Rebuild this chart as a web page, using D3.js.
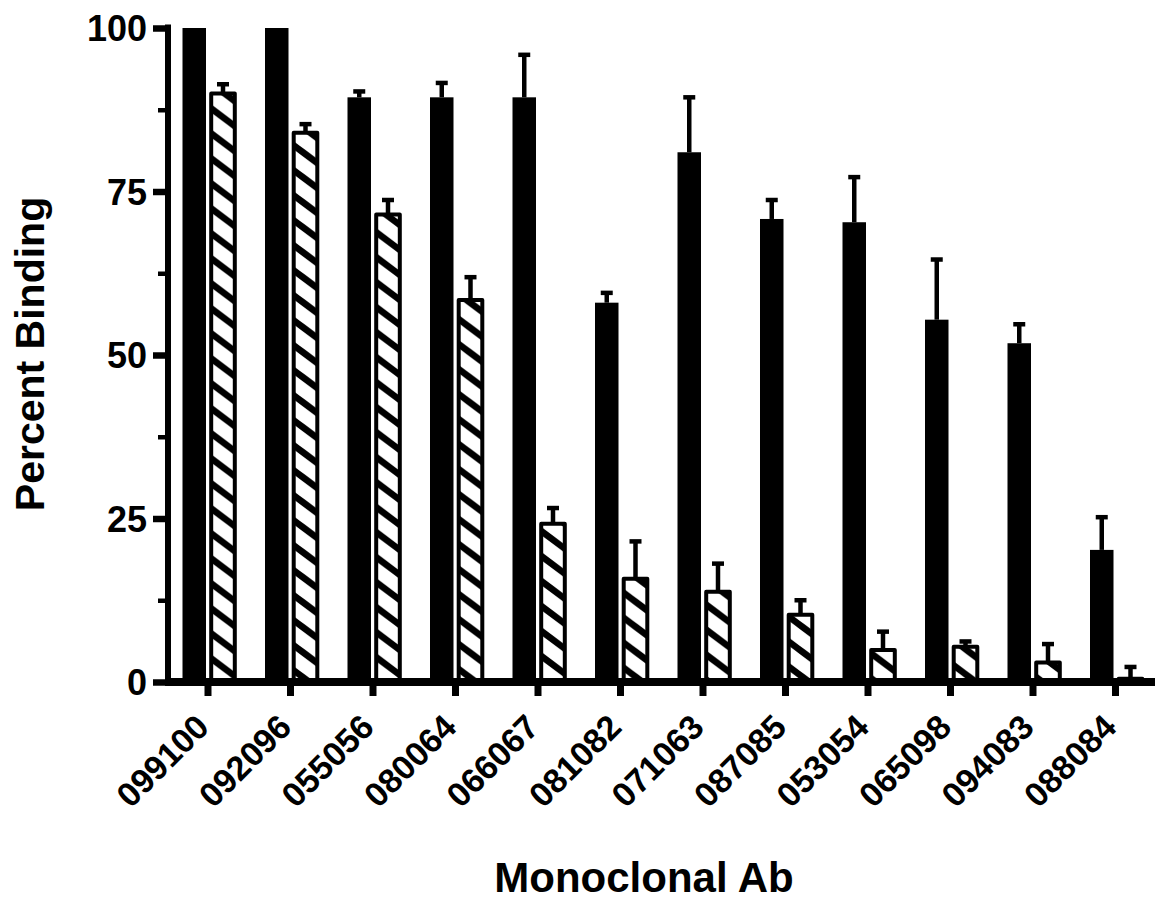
<!DOCTYPE html>
<html><head><meta charset="utf-8">
<script src="https://cdn.jsdelivr.net/npm/d3@7"></script>
<style>body{margin:0;background:#fff}svg{display:block}</style>
</head><body>
<svg id="chart" width="1158" height="902"></svg>
<script>
const categories = ["099100","092096","055056","080064","066067","081082","071063","087085","053054","065098","094083","088084"];
const solidValues = [100,100,89.4,89.4,89.4,58.0,81.0,70.8,70.3,55.4,51.8,20.2];
const solidErrors = [0,0,0.9,2.2,6.5,1.5,8.4,2.9,6.9,9.2,2.9,5.0];
const hatchedValues = [90.0,84.0,71.5,58.4,24.2,15.8,13.8,10.3,4.9,5.4,3.0,0.5];
const hatchedErrors = [1.4,1.3,2.2,3.5,2.4,5.7,4.3,2.2,2.8,0.8,2.8,1.8];
const yTicks = [0,25,50,75,100];
const yMinorTicks = [12.5,37.5,62.5,87.5];
const yTitle = "Percent Binding";
const xTitle = "Monoclonal Ab";

const FONT = "'Liberation Sans', Arial, Helvetica, sans-serif";
const svg = d3.select("#chart");

const x = d3.scaleBand().domain(categories).range([166.75, 1156.75]).padding(0);
const y = d3.scaleLinear().domain([0, 100]).range([682, 28]);
const center = d => x(d) + x.bandwidth() / 2;

// hatch pattern
const defs = svg.append("defs");
const pw = 100 / 3, ph = 25;
const pat = defs.append("pattern").attr("id", "hatch")
  .attr("patternUnits", "userSpaceOnUse").attr("width", pw).attr("height", ph);
pat.append("rect").attr("width", pw).attr("height", ph).attr("fill", "#fff");
let hp = "";
for (let k = -2; k <= 2; k++) {
  hp += `M-10,${-7.5 + 25 * k}L45,${33.75 + 25 * k}`;
}
pat.append("path").attr("d", hp).attr("stroke", "#000").attr("stroke-width", 6.6).attr("fill", "none");

const solid = categories.map((c, i) => ({c, v: solidValues[i], e: solidErrors[i]}));
const hatched = categories.map((c, i) => ({c, v: hatchedValues[i], e: hatchedErrors[i]}));

// solid bars
svg.append("g").selectAll("rect").data(solid).join("rect")
  .attr("x", d => center(d.c) - 25.5)
  .attr("width", 23.5)
  .attr("y", d => y(d.v))
  .attr("height", d => y(0) - y(d.v))
  .attr("fill", "#000");

// hatched bars
svg.append("g").selectAll("rect").data(hatched).join("rect")
  .attr("x", d => center(d.c) + 3.2)
  .attr("width", 23.6)
  .attr("y", d => y(d.v))
  .attr("height", d => y(0) - y(d.v))
  .attr("fill", "url(#hatch)")
  .attr("stroke", "#000").attr("stroke-width", 4)
  .attr("stroke-linejoin", "round");

// error bars
function errorBars(data, off) {
  const g = svg.append("g").attr("stroke", "#000").attr("stroke-width", 4.5);
  const dd = data.filter(d => d.e > 0);
  g.selectAll("line.stem").data(dd).join("line").attr("class", "stem")
    .attr("x1", d => center(d.c) + off).attr("x2", d => center(d.c) + off)
    .attr("y1", d => y(d.v)).attr("y2", d => y(d.v + d.e));
  g.selectAll("line.cap").data(dd).join("line").attr("class", "cap")
    .attr("x1", d => center(d.c) + off - 6).attr("x2", d => center(d.c) + off + 6)
    .attr("y1", d => y(d.v + d.e)).attr("y2", d => y(d.v + d.e));
}
errorBars(solid, -13.75);
errorBars(hatched, 15);

// y axis
const yAxisG = svg.append("g").attr("transform", "translate(168,0)")
  .call(d3.axisLeft(y).tickValues(yTicks).tickSize(15).tickPadding(6));
yAxisG.select(".domain").remove();
yAxisG.selectAll(".tick line").attr("stroke", "#000").attr("stroke-width", 6.5);
yAxisG.selectAll(".tick text")
  .attr("x", -21).attr("dy", "0.36em")
  .attr("font-family", FONT).attr("font-weight", "bold").attr("font-size", 36).attr("fill", "#000");

const yMinorG = svg.append("g").attr("transform", "translate(168,0)")
  .call(d3.axisLeft(y).tickValues(yMinorTicks).tickSize(10).tickFormat(""));
yMinorG.select(".domain").remove();
yMinorG.selectAll(".tick line").attr("stroke", "#000").attr("stroke-width", 4.5);

svg.append("line").attr("x1", 168).attr("x2", 168).attr("y1", y(100) - 3.5).attr("y2", y(0))
  .attr("stroke", "#000").attr("stroke-width", 6);

// x axis
const xAxisG = svg.append("g").attr("transform", `translate(0,${y(0)})`)
  .call(d3.axisBottom(x).tickSize(14).tickSizeOuter(0));
xAxisG.select(".domain").remove();
xAxisG.selectAll(".tick line").attr("stroke", "#000").attr("stroke-width", 7);
xAxisG.selectAll(".tick text")
  .attr("x", 0).attr("y", 0).attr("dy", 0)
  .attr("transform", "translate(3,47) rotate(-45)")
  .attr("text-anchor", "end")
  .attr("font-family", FONT).attr("font-weight", "bold").attr("font-size", 34).attr("fill", "#000");

svg.append("line").attr("x1", 165).attr("x2", 1155).attr("y1", y(0)).attr("y2", y(0))
  .attr("stroke", "#000").attr("stroke-width", 8);

// titles
svg.append("text").attr("transform", "translate(44,354) rotate(-90)")
  .attr("text-anchor", "middle")
  .attr("font-family", FONT).attr("font-weight", "bold").attr("font-size", 41)
  .text(yTitle);
svg.append("text").attr("x", 644).attr("y", 892)
  .attr("text-anchor", "middle")
  .attr("font-family", FONT).attr("font-weight", "bold").attr("font-size", 42)
  .text(xTitle);
</script>
</body></html>
